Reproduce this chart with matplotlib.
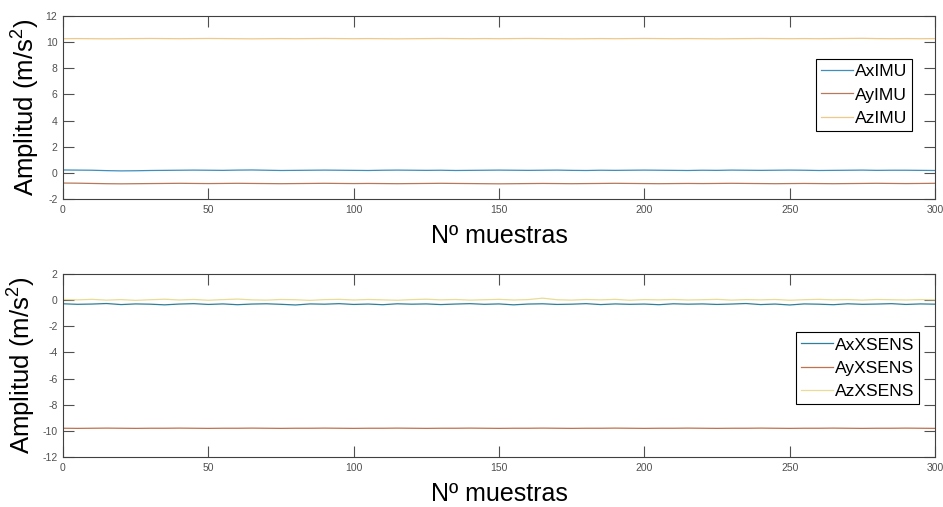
import numpy as np
import matplotlib.pyplot as plt

plt.rcParams['font.family'] = ['Liberation Sans', 'DejaVu Sans']
plt.rcParams['mathtext.fontset'] = 'custom'
plt.rcParams['mathtext.rm'] = 'Liberation Sans'
plt.rcParams['mathtext.it'] = 'Liberation Sans'
plt.rcParams['axes.unicode_minus'] = False

# muestras cada 5 puntos (0..300)
n = np.arange(0, 301, 5)

ax_imu = [0.22, 0.21, 0.20, 0.17, 0.15, 0.16, 0.18, 0.19, 0.20, 0.21, 0.20,
          0.19, 0.21, 0.22, 0.20, 0.18, 0.19, 0.20, 0.21, 0.20, 0.19, 0.18,
          0.20, 0.21, 0.20, 0.19, 0.20, 0.18, 0.19, 0.20, 0.21, 0.20, 0.19,
          0.20, 0.21, 0.19, 0.18, 0.20, 0.19, 0.20, 0.21, 0.20, 0.19, 0.18,
          0.20, 0.19, 0.21, 0.20, 0.19, 0.20, 0.21, 0.20, 0.18, 0.19, 0.20,
          0.21, 0.19, 0.20, 0.20, 0.19, 0.18]
ay_imu = [-0.78, -0.79, -0.81, -0.83, -0.84, -0.83, -0.82, -0.81, -0.80, -0.81,
          -0.82, -0.81, -0.80, -0.81, -0.82, -0.83, -0.82, -0.81, -0.80, -0.81,
          -0.82, -0.81, -0.82, -0.83, -0.82, -0.81, -0.80, -0.81, -0.82, -0.83,
          -0.84, -0.83, -0.82, -0.81, -0.82, -0.83, -0.82, -0.81, -0.80, -0.81,
          -0.82, -0.83, -0.82, -0.81, -0.82, -0.81, -0.80, -0.81, -0.82, -0.83,
          -0.82, -0.81, -0.82, -0.83, -0.82, -0.81, -0.80, -0.81, -0.82, -0.81,
          -0.80]
az_imu = [10.26, 10.27, 10.26, 10.25, 10.26, 10.27, 10.28, 10.27, 10.26, 10.27,
          10.28, 10.27, 10.26, 10.25, 10.26, 10.27, 10.26, 10.27, 10.28, 10.27,
          10.26, 10.27, 10.26, 10.25, 10.26, 10.27, 10.28, 10.27, 10.26, 10.27,
          10.26, 10.27, 10.28, 10.27, 10.26, 10.25, 10.26, 10.27, 10.26, 10.27,
          10.28, 10.27, 10.26, 10.27, 10.26, 10.25, 10.26, 10.27, 10.28, 10.27,
          10.26, 10.27, 10.26, 10.27, 10.28, 10.29, 10.27, 10.26, 10.27, 10.26,
          10.27]

ax_xsens = [-0.28, -0.32, -0.30, -0.26, -0.34, -0.29, -0.31, -0.36, -0.30, -0.27,
            -0.33, -0.29, -0.35, -0.30, -0.28, -0.32, -0.37, -0.29, -0.31, -0.27,
            -0.33, -0.30, -0.35, -0.28, -0.31, -0.29, -0.34, -0.30, -0.27, -0.32,
            -0.29, -0.36, -0.30, -0.28, -0.33, -0.31, -0.27, -0.34, -0.29, -0.32,
            -0.30, -0.35, -0.28, -0.31, -0.29, -0.33, -0.30, -0.26, -0.34, -0.30,
            -0.37, -0.29, -0.31, -0.35, -0.28, -0.32, -0.30, -0.27, -0.33, -0.29,
            -0.31]
ay_xsens = [-9.80, -9.81, -9.80, -9.79, -9.80, -9.81, -9.80, -9.80, -9.79, -9.80,
            -9.81, -9.80, -9.80, -9.79, -9.80, -9.81, -9.80, -9.80, -9.79, -9.80,
            -9.81, -9.80, -9.80, -9.79, -9.80, -9.81, -9.80, -9.80, -9.79, -9.80,
            -9.81, -9.80, -9.80, -9.79, -9.80, -9.81, -9.80, -9.80, -9.79, -9.80,
            -9.81, -9.80, -9.80, -9.79, -9.80, -9.81, -9.80, -9.80, -9.79, -9.80,
            -9.81, -9.80, -9.80, -9.79, -9.80, -9.81, -9.80, -9.80, -9.79, -9.80,
            -9.81]
az_xsens = [0.05, 0.02, 0.06, 0.00, 0.04, -0.02, 0.03, 0.07, 0.01, 0.05,
            -0.01, 0.04, 0.08, 0.02, 0.00, 0.05, 0.03, -0.02, 0.04, 0.06,
            0.01, 0.05, 0.02, -0.01, 0.04, 0.07, 0.02, 0.05, 0.00, 0.03,
            0.06, 0.01, 0.04, 0.15, 0.03, 0.00, 0.05, 0.02, 0.06, -0.01,
            0.04, 0.02, 0.05, 0.01, 0.03, 0.06, 0.00, 0.04, 0.02, 0.05,
            -0.01, 0.03, 0.06, 0.02, 0.04, 0.00, 0.05, 0.03, 0.01, 0.04,
            0.02]

fig = plt.figure(figsize=(9.43, 5.07), dpi=100)
ax1 = fig.add_axes([0.0668, 0.6075, 0.9247, 0.361])
ax2 = fig.add_axes([0.0668, 0.0986, 0.9247, 0.361])

ax1.plot(n, ax_imu, color='#3f8ebc', lw=0.9, label='AxIMU')
ax1.plot(n, ay_imu, color='#b8785a', lw=0.9, label='AyIMU')
ax1.plot(n, az_imu, color='#eec98a', lw=0.9, label='AzIMU')

ax2.plot(n, ax_xsens, color='#2f7f9a', lw=0.9, label='AxXSENS')
ax2.plot(n, ay_xsens, color='#c0724f', lw=0.9, label='AyXSENS')
ax2.plot(n, az_xsens, color='#e8dc96', lw=0.9, label='AzXSENS')

ax1.set_ylim(-2, 12)
ax1.set_yticks(np.arange(-2, 13, 2))
ax2.set_ylim(-12, 2)
ax2.set_yticks(np.arange(-12, 3, 2))

legend_pos = [(0.974, 0.765), (0.982, 0.683)]
for ax, pos in zip([ax1, ax2], legend_pos):
    ax.set_xlim(0, 300)
    ax.set_xticks(np.arange(0, 301, 50))
    ax.tick_params(direction='in', length=8, width=0.8, labelsize=7.5,
                   colors='#505050', top=True, right=True, pad=4)
    for s in ax.spines.values():
        s.set_color('#404040')
        s.set_linewidth(0.8)
    ax.set_xlabel('Nº muestras', fontsize=18, labelpad=7)
    ax.set_ylabel('Amplitud (m/s$^{2}$)', fontsize=18.5, labelpad=3)
    leg = ax.legend(loc='upper right', bbox_to_anchor=pos, fontsize=12.6,
                    handlelength=1.8, handletextpad=0.1, labelspacing=0.45,
                    borderpad=0.3, borderaxespad=0, fancybox=False,
                    framealpha=1)
    leg.get_frame().set_edgecolor('black')
    leg.get_frame().set_linewidth(0.8)

fig.savefig('out.png', dpi=100)
